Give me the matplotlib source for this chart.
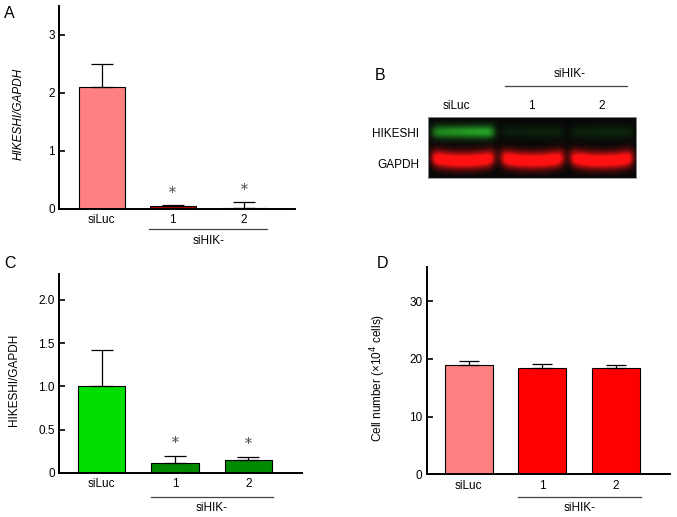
import numpy as np
import matplotlib
matplotlib.use('Agg')
import matplotlib.pyplot as plt

plt.rcParams['font.family'] = ['Liberation Sans', 'DejaVu Sans']
plt.rcParams['font.size'] = 8.5

W_PX, H_PX = 677, 517

# --- data ---
groups = ['siLuc', '1', '2']

# A: HIKESHI mRNA (HIKESHI/GAPDH)
a_mean = [2.11, 0.04, 0.02]
a_err = [0.38, 0.02, 0.09]
a_sig = [False, True, True]

# C: HIKESHI protein (HIKESHI/GAPDH)
c_mean = [1.00, 0.115, 0.147]
c_err = [0.42, 0.08, 0.035]
c_sig = [False, True, True]

# D: cell number (x10^4 cells)
d_mean = [19.0, 18.5, 18.4]
d_err = [0.7, 0.7, 0.6]

# B: blot band intensities per lane
hikeshi_band = [0.85, 0.14, 0.16]
gapdh_band = [1.0, 1.0, 1.0]


def px(x, y):
    return x / W_PX, 1 - y / H_PX


def axes_px(fig, x0, y0, x1, y1):
    l, t = px(x0, y0)
    r, b = px(x1, y1)
    return fig.add_axes([l, b, r - l, t - b])


def bar_panel(ax, means, errs, colors, ylim, yticks, yticklabels, ylabel,
              xlim, label_y, line_y, text_y, sig=None, capsize=8, italic=False):
    x = np.arange(len(means))
    ax.bar(x, means, width=0.65, color=colors, edgecolor='black', linewidth=0.8, zorder=2)
    ax.errorbar(x, means, yerr=[np.zeros(len(errs)), errs], fmt='none', ecolor='black',
                elinewidth=0.9, capsize=capsize, capthick=0.9, zorder=3)
    ax.set_xlim(*xlim)
    ax.set_ylim(*ylim)
    ax.set_yticks(yticks)
    ax.set_yticklabels(yticklabels)
    ax.set_xticks(x)
    ax.set_xticklabels(groups)
    ax.tick_params(axis='x', length=0, pad=4)
    ax.tick_params(axis='y', direction='in', length=4, width=1.2, pad=3)
    for s in ['top', 'right']:
        ax.spines[s].set_visible(False)
    for s in ['left', 'bottom']:
        ax.spines[s].set_linewidth(1.4)
    ax.set_ylabel(ylabel, style='italic' if italic else 'normal')
    ax.yaxis.set_label_coords(*label_y)
    # siHIK- bracket under lanes 1 and 2
    ax.plot([1 - 0.33, 2 + 0.33], [line_y, line_y], color='#444444', lw=0.9,
            transform=ax.get_xaxis_transform(), clip_on=False)
    ax.text(1.5, text_y, 'siHIK-', ha='center', va='center',
            transform=ax.get_xaxis_transform())
    if sig is not None:
        for i, s in enumerate(sig):
            if s:
                ax.annotate('*', (i, means[i] + errs[i]), xytext=(0, 4),
                            textcoords='offset points', ha='center', va='bottom',
                            fontsize=10, family='DejaVu Serif', color='#444444')


fig = plt.figure(figsize=(W_PX / 100, H_PX / 100), dpi=100)

# Panel A
axA = axes_px(fig, 59, 6, 295, 208.7)
bar_panel(axA, a_mean, a_err, ['#FF8080', '#B00000', '#B00000'], (0, 3.5),
          [0, 1, 2, 3], ['0', '1', '2', '3'], 'HIKESHI/GAPDH', (-0.6, 2.72),
          (-0.145, 0.47), -0.10, -0.16, sig=a_sig, italic=True)

# Panel C
axC = axes_px(fig, 59, 274, 302, 472.7)
bar_panel(axC, c_mean, c_err, ['#00DD00', '#008A00', '#008A00'], (0, 2.3),
          [0, 0.5, 1.0, 1.5, 2.0], ['0', '0.5', '1.0', '1.5', '2.0'],
          'HIKESHI/GAPDH', (-0.58, 2.73), (-0.16, 0.467), -0.124, -0.178, sig=c_sig)

# Panel D
axD = axes_px(fig, 426.7, 266.7, 670, 474.3)
bar_panel(axD, d_mean, d_err, ['#FF8080', '#FF0000', '#FF0000'], (0, 36),
          [0, 10, 20, 30], ['0', '10', '20', '30'],
          'Cell number (×10$^4$ cells)', (-0.57, 2.73), (-0.16, 0.464),
          -0.111, -0.162, capsize=7)

# Panel B: western blot (synthetic band image from lane intensities)
axB = axes_px(fig, 427.7, 117.3, 636, 178.3)
bw, bh = 210, 62
xs = np.linspace(-0.5, 2.5, bw)
ys = np.linspace(0, 1, bh)
X, Y = np.meshgrid(xs, ys)
green = np.zeros_like(X)
red = np.zeros_like(X)
for i in range(3):
    lane = 1 / (1 + np.exp((np.abs(X - i) - 0.44) / 0.03))
    tilt = 1 + 0.3 * (X - i)
    green += hikeshi_band[i] * lane * tilt * np.exp(-((Y - 0.24) / 0.11) ** 2)
    smile = 0.05 * ((X - i) / 0.45) ** 2
    red += gapdh_band[i] * lane * np.exp(-((Y - 0.72 + smile) / 0.14) ** 2)
green = np.clip(green, 0, 1)
red = np.clip(1.25 * red, 0, 1)
img = np.zeros((bh, bw, 3))
img[..., 0] = 0.03 + 0.97 * red + 0.12 * green
img[..., 1] = 0.03 + 0.66 * green + 0.04 * red
img[..., 2] = 0.03 + 0.12 * green + 0.04 * red
axB.imshow(np.clip(img, 0, 1), extent=[-0.5, 2.5, 1, 0], aspect='auto', interpolation='bilinear')
axB.set_xticks([])
axB.set_yticks([])
for s in axB.spines.values():
    s.set_color('#999999')
    s.set_linewidth(0.6)
for i, g in enumerate(groups):
    axB.text(i - 0.08 if i == 0 else i, 1.18, g, ha='center', va='center',
             transform=axB.get_xaxis_transform())
axB.text(-0.04, 0.72, 'HIKESHI', ha='right', va='center', transform=axB.transAxes)
axB.text(-0.04, 0.22, 'GAPDH', ha='right', va='center', transform=axB.transAxes)
fig.text(*px(570, 74), 'siHIK-', ha='center', va='center')
fig.add_artist(plt.Line2D([505 / W_PX, 627 / W_PX], [1 - 86 / H_PX] * 2,
                          color='#444444', lw=0.9, transform=fig.transFigure))

# panel letters
for letter, (x, y) in zip('ABCD', [(9, 14), (380, 75), (10, 263), (382, 263)]):
    fig.text(*px(x, y), letter, ha='center', va='center', fontsize=11.5)

fig.savefig('out.png', dpi=100)
